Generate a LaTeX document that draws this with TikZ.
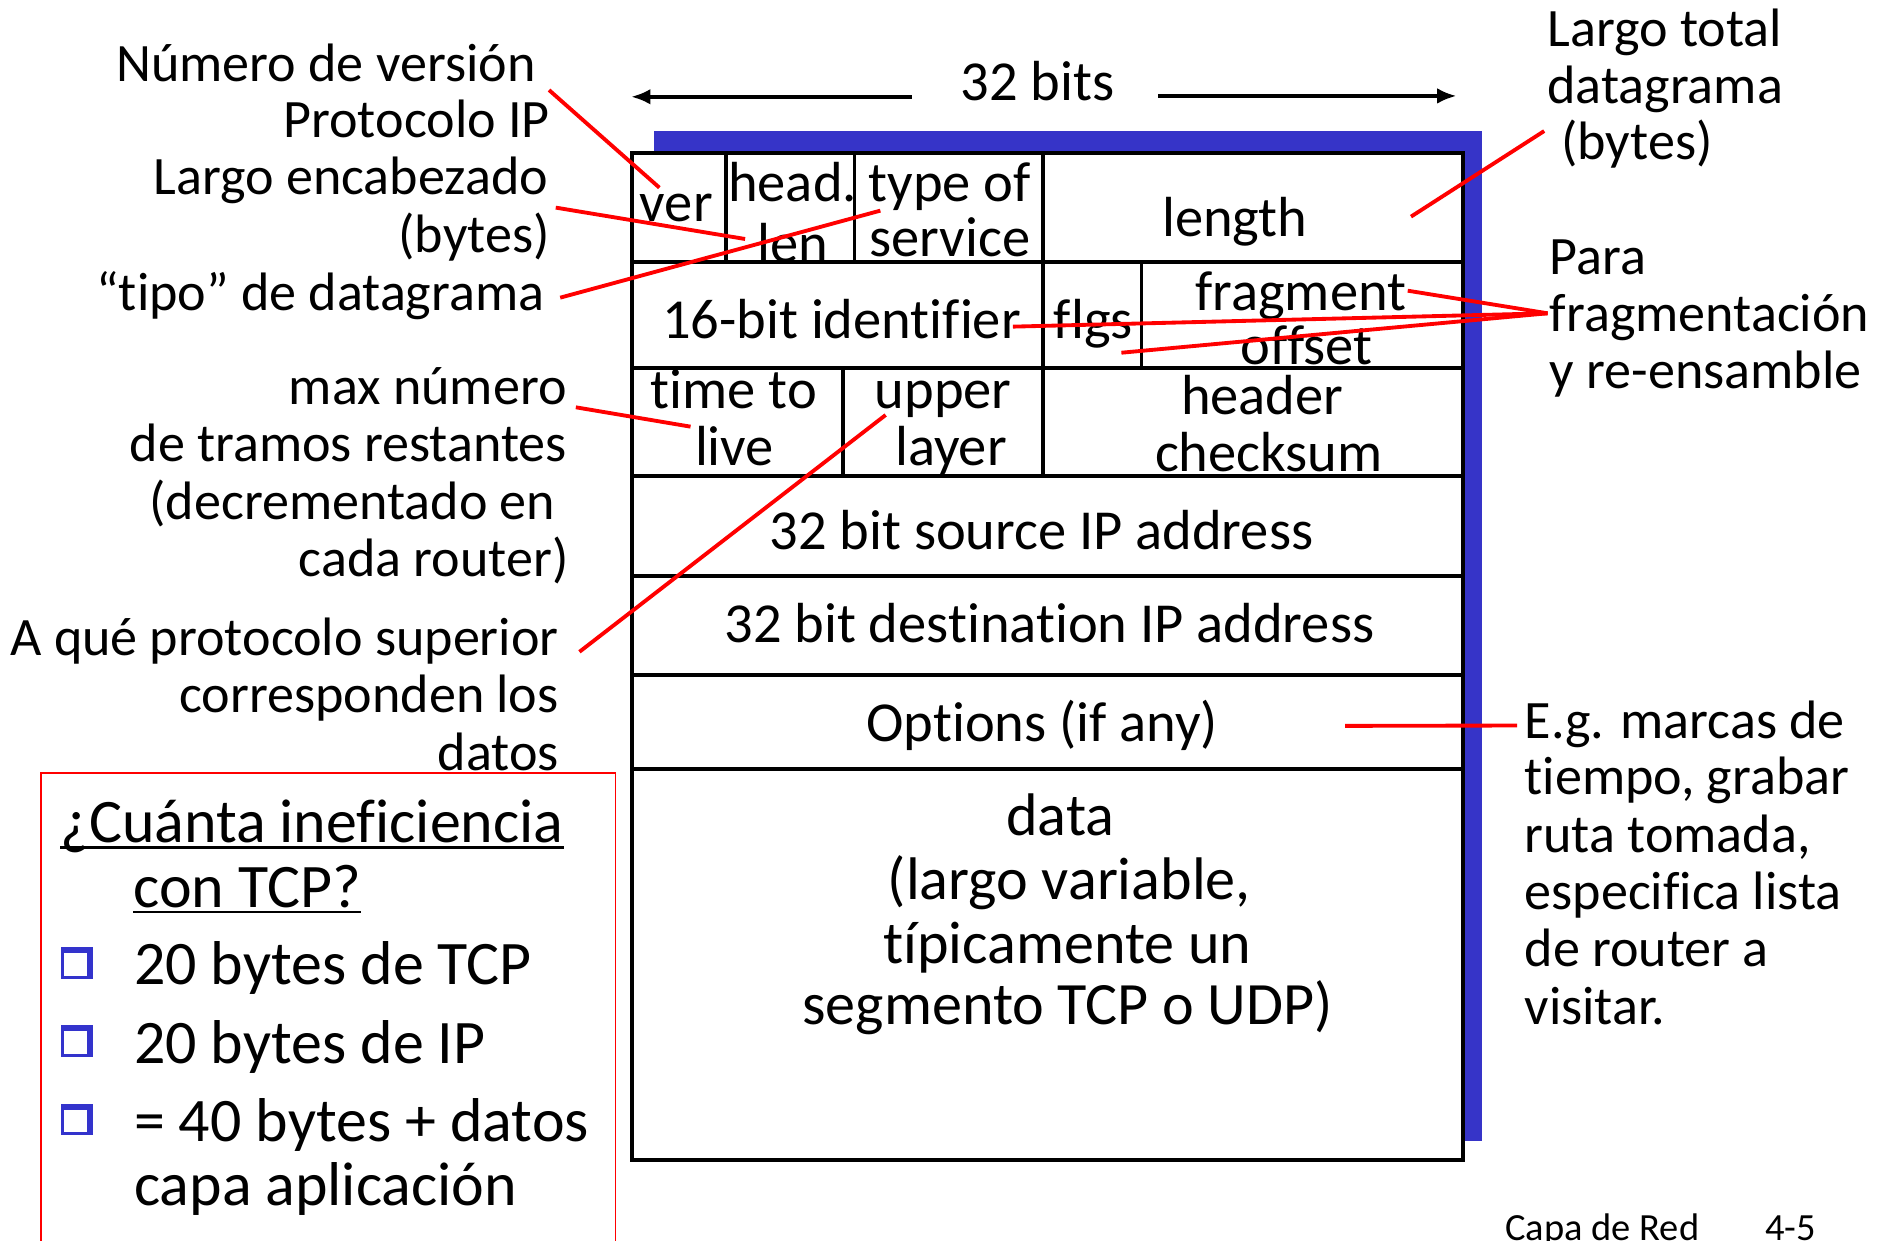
\documentclass[tikz,border=0pt]{standalone}
\usepackage{fontspec}
\setmainfont{Carlito}[Ligatures=CommonOff]
\definecolor{shadowblue}{RGB}{54,52,200}
\definecolor{bulblue}{RGB}{51,51,204}
\newcommand\annfont{\fontsize{45}{48}\selectfont}
\newcommand\fieldfont{\fontsize{47}{50}\selectfont}
\newcommand\datafont{\fontsize{50}{53}\selectfont}
\newcommand\notefont{\fontsize{51.5}{53}\selectfont}
\newcommand\footfont{\fontsize{32}{34}\selectfont}
\tikzset{
  annL/.style={inner sep=0pt, anchor=base east, font=\annfont},
  annR/.style={inner sep=0pt, anchor=base west, font=\annfont},
  fld/.style={inner sep=0pt, anchor=base, font=\fieldfont},
  dat/.style={inner sep=0pt, anchor=base, font=\datafont},
  note/.style={inner sep=0pt, anchor=base west, font=\notefont},
  foot/.style={inner sep=0pt, anchor=base west, font=\footfont},
  gridline/.style={line width=3.2pt, line cap=rect},
  redline/.style={red, line width=3.2pt},
  arrowline/.style={line width=3pt, -{Latex[length=16pt,width=13pt]}},
}
\usetikzlibrary{arrows.meta}
\begin{document}
\begin{tikzpicture}[x=1pt,y=-1pt]
\useasboundingbox (0,0) rectangle (1568,1031.5);
% shadow and box
\fill[shadowblue] (543.7,108.7) rectangle (1232.7,949);
\draw[gridline, fill=white] (526,127.3) rectangle (1216.7,964.7);
% horizontal row lines
\foreach \yy in {217.7,306.4,396,479,561.5,640}
  \draw[gridline] (526,\yy) -- (1216.7,\yy);
% vertical dividers
\draw[gridline] (604,127.3) -- (604,217.7);
\draw[gridline] (710.8,127.3) -- (710.8,217.7);
\draw[gridline] (867.6,127.3) -- (867.6,396);
\draw[gridline] (949.5,217.7) -- (949.5,306.4);
\draw[gridline] (701.2,306.4) -- (701.2,396);

% 32 bits
\node[fld] (bits) at (863,83.2) {32 bits};
\coordinate (bitsL) at (758.3,80.5);
\coordinate (bitsLtip) at (525,80.5);
\coordinate (bitsR) at (963.3,79.8);
\coordinate (bitsRtip) at (1211.5,79.8);
\draw[arrowline] (bitsL) -- (bitsLtip);
\draw[arrowline] (bitsR) -- (bitsRtip);

% field texts
\node[fld] (ver) at (562.6,184.4) {ver};
\node[fld] (head) at (659.3,167.8) {head.};
\node[fld] (len) at (659.7,218) {len};
\node[fld] (tos1) at (790,167.8) {type of};
\node[fld] (tos2) at (790,213.5) {service};
\node[fld] (length) at (1027,196.9) {length};
\node[fld] (ident) at (700,281.4) {16-bit identifier};
\node[fld] (flgs) at (909.5,281.4) {flgs};
\node[fld] (frag1) at (1082,257.9) {fragment};
\node[fld] (frag2) at (1087,303.6) {offset};
\node[fld] (ttl1) at (610.5,339.7) {time to};
\node[fld] (ttl2) at (611,386.8) {live};
\node[fld] (up1) at (784.5,339.7) {upper};
\node[fld] (up2) at (791,386.8) {layer};
\node[fld] (hc1) at (1050,345.2) {header};
\node[fld] (hc2) at (1055.5,392.3) {checksum};
\node[fld] (src) at (866.3,457) {32 bit source IP address};
\node[fld] (dst) at (873,534.5) {32 bit destination IP address};
\node[fld] (opt) at (867,616.4) {Options (if any)};
\node[dat] (d1) at (882,694.6) {data};
\node[dat] (d2) at (889.5,748.6) {(largo variable,};
\node[dat] (d3) at (888,801.5) {típicamente un};
\node[dat] (d4) at (888,852.4) {segmento TCP o UDP)};

% left annotations
\node[annL] (nv1) at (445.6,67.4) {Número de versión};
\node[annL] (nv2) at (457.5,114.2) {Protocolo IP};
\node[annL] (hl1) at (456,162.2) {Largo encabezado};
\node[annL] (hl2) at (457.5,210) {(bytes)};
\node[annL] (tp1) at (453,257.9) {“tipo” de datagrama};
\node[annL] (mx1) at (471.6,336.3) {max número};
\node[annL] (mx2) at (471.6,384) {de tramos restantes};
\node[annL] (mx3) at (462,432) {(decrementado en};
\node[annL] (mx4) at (473,479.8) {cada router)};
\node[annL] (pr1) at (465,545) {A qué protocolo superior};
\node[annL] (pr2) at (465,592.5) {corresponden los};
\node[annL] (pr3) at (465,640.5) {datos};

% right annotations
\node[annR] (lt1) at (1287,38.8) {Largo total};
\node[annR] (lt2) at (1287,86) {datagrama};
\node[annR] (lt3) at (1298.6,133) {(bytes)};
\node[annR] (fr1) at (1289,228) {Para};
\node[annR] (fr2) at (1289,275.9) {fragmentación};
\node[annR] (fr3) at (1289,323) {y re-ensamble};
\node[annR] (eg1) at (1268,614) {E.g. marcas de};
\node[annR] (eg2) at (1268,661) {tiempo, grabar};
\node[annR] (eg3) at (1268,709) {ruta tomada,};
\node[annR] (eg4) at (1268,756.4) {especifica lista};
\node[annR] (eg5) at (1268,804) {de router a};
\node[annR] (eg6) at (1268,851.8) {visitar.};

% red connectors
\coordinate (c1a) at (456.7,74.9);  \coordinate (c1b) at (548.5,156.1);
\coordinate (c2a) at (462.3,172.7); \coordinate (c2b) at (619.8,198.8);
\coordinate (c3a) at (466,247.6);   \coordinate (c3b) at (732.3,175.2);
\coordinate (c4a) at (479,338.8);   \coordinate (c4b) at (574.4,354.9);
\coordinate (c5a) at (482,542.2);   \coordinate (c5b) at (736.7,345.2);
\coordinate (c6a) at (1284.5,109);  \coordinate (c6b) at (1173.7,180.2);
\coordinate (c7) at (1287.3,260.6);
\coordinate (c7a) at (1171,241.8);
\coordinate (c7b) at (842.6,271.7);
\coordinate (c7c) at (932.8,293.4);
\coordinate (c8a) at (1262,603.5);  \coordinate (c8b) at (1118.8,603.8);
\draw[redline] (c1a) -- (c1b);
\draw[redline] (c2a) -- (c2b);
\draw[redline] (c3a) -- (c3b);
\draw[redline] (c4a) -- (c4b);
\draw[redline] (c5a) -- (c5b);
\draw[redline] (c6a) -- (c6b);
\draw[redline] (c7) -- (c7a);
\draw[redline] (c7) -- (c7b);
\draw[redline] (c7) -- (c7c);
\draw[redline] (c8a) -- (c8b);

% question box
\draw[red, line width=1.5pt] (34,1040) -- (34,643) -- (512,643) -- (512,1040);
\node[note] (q1) at (50,700.7) {¿Cuánta ineficiencia};
\node[note] (q2) at (110.7,754.5) {con TCP?};
\draw[line width=2.2pt] ([yshift=-4pt]q1.base west) -- ([yshift=-4pt]q1.base east);
\draw[line width=2.2pt] ([yshift=-4pt]q2.base west) -- ([yshift=-4pt]q2.base east);
\foreach \by in {788,853,918}{
  \fill[bulblue] (51,\by) rectangle (77,\by+26);
  \fill[white] (53,\by+5) rectangle (72,\by+24);
}
\node[note] (r1) at (111.4,819) {20 bytes de TCP};
\node[note] (r2) at (111.4,884.5) {20 bytes de IP};
\node[note] (r3) at (111.4,949.5) {= 40 bytes + datos};
\node[note] (r4) at (111.4,1003) {capa aplicación};

% footer
\node[foot] (ft1) at (1252,1032) {Capa de Red};
\node[foot] (ft2) at (1468,1032) {4-5};
\end{tikzpicture}
\end{document}
